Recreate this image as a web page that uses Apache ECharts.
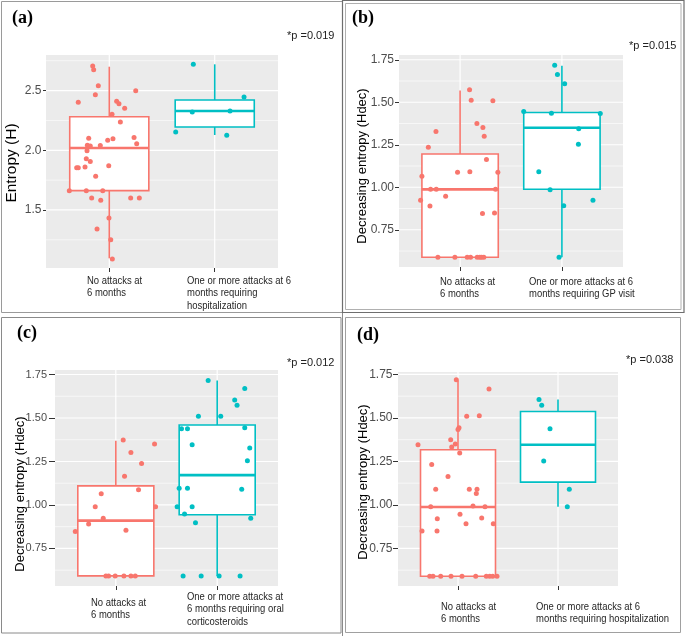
<!DOCTYPE html>
<html>
<head>
<meta charset="utf-8">
<script src="https://cdn.jsdelivr.net/npm/echarts@6/dist/echarts.min.js"></script>
<style>
html,body{margin:0;padding:0;background:#ffffff;}
#chart{width:685px;height:636px;}
</style>
</head>
<body>
<div id="chart"></div>
<script>
// ---------------- DATA ----------------
const groupNames = ['No attacks at 6 months', 'One or more attacks at 6 months'];
const groupPositions = [1, 2];

const xLabelsA = ['No attacks at\n6 months', 'One or more attacks at 6\nmonths requiring\nhospitalization'];
const xLabelsB = ['No attacks at\n6 months', 'One or more attacks at 6\nmonths requiring GP visit'];
const xLabelsC = ['No attacks at\n6 months', 'One or more attacks at\n6 months requiring oral\ncorticosteroids'];
const xLabelsD = ['No attacks at\n6 months', 'One or more attacks at 6\nmonths requiring hospitalization'];

const yTitleA = 'Entropy (H)';
const yTitleB = 'Decreasing entropy (Hdec)';
const yTitleC = 'Decreasing entropy (Hdec)';
const yTitleD = 'Decreasing entropy (Hdec)';

const pValueA = '*p =0.019';
const pValueB = '*p =0.015';
const pValueC = '*p =0.012';
const pValueD = '*p =0.038';

const panelTags = ['(a)', '(b)', '(c)', '(d)'];

const yTicksA = [1.5, 2.0, 2.5];
const yMinorA = [1.25, 1.75, 2.25, 2.75];
const yTicksBCD = [0.75, 1.00, 1.25, 1.50, 1.75];
const yMinorBCD = [0.625, 0.875, 1.125, 1.375, 1.625];

// box stats: [lower whisker, Q1, median, Q3, upper whisker]
const boxA_no  = [1.095, 1.662, 2.019, 2.281, 2.700];
const boxA_yes = [2.128, 2.195, 2.329, 2.421, 2.720];
const boxB_no  = [0.588, 0.588, 0.988, 1.196, 1.569];
const boxB_yes = [0.588, 0.988, 1.350, 1.440, 1.715];
const boxC_no  = [0.592, 0.592, 0.910, 1.110, 1.369];
const boxC_yes = [0.592, 0.944, 1.171, 1.460, 1.715];
const boxD_no  = [0.590, 0.590, 0.988, 1.317, 1.717];
const boxD_yes = [0.990, 1.131, 1.346, 1.537, 1.606];

// jittered points: [jittered group position, value]
const pointsA_no = [[0.843,2.706],[0.852,2.675],[0.896,2.541],[1.251,2.499],[0.868,2.466],[0.706,2.402],[1.070,2.410],[1.092,2.390],[1.146,2.352],[1.026,2.302],[1.105,2.237],[0.805,2.101],[1.035,2.097],[0.985,2.084],[1.235,2.106],[1.260,2.055],[0.792,2.042],[0.820,2.036],[0.915,2.039],[0.789,1.997],[0.782,1.930],[0.820,1.905],[0.691,1.854],[0.706,1.854],[0.770,1.860],[0.995,1.871],[0.871,1.782],[0.621,1.662],[0.782,1.662],[0.938,1.662],[0.833,1.600],[0.919,1.581],[1.203,1.600],[1.285,1.600],[0.997,1.433],[0.884,1.341],[1.014,1.251],[1.029,1.090]];
const pointsA_yes = [[1.797,2.720],[2.278,2.446],[1.787,2.321],[2.145,2.329],[1.630,2.153],[2.114,2.126]];

const pointsB_no = [[1.093,1.573],[1.109,1.512],[1.322,1.509],[0.763,1.328],[1.165,1.375],[1.224,1.351],[1.237,1.300],[0.688,1.236],[1.259,1.163],[0.975,1.088],[1.096,1.092],[1.371,1.088],[0.625,1.065],[0.710,0.988],[0.766,0.988],[1.348,0.988],[0.858,0.947],[0.612,0.923],[0.704,0.890],[1.220,0.845],[1.338,0.849],[0.782,0.588],[0.949,0.588],[1.070,0.588],[1.103,0.588],[1.168,0.588],[1.194,0.588],[1.211,0.588],[1.233,0.588]];
const pointsB_yes = [[1.929,1.717],[1.956,1.664],[2.027,1.609],[1.625,1.446],[1.897,1.436],[2.377,1.434],[2.165,1.344],[2.162,1.253],[1.773,1.092],[1.884,0.986],[2.018,0.892],[2.305,0.923],[1.972,0.588]];

const pointsC_no = [[1.073,1.373],[1.382,1.350],[1.149,1.302],[1.254,1.238],[1.086,1.165],[1.224,1.088],[0.856,1.065],[0.797,0.990],[1.392,0.990],[0.876,0.923],[0.732,0.890],[0.600,0.848],[1.100,0.854],[0.902,0.592],[0.929,0.592],[0.994,0.592],[1.080,0.592],[1.149,0.592],[1.192,0.592]];
const pointsC_yes = [[1.911,1.715],[2.272,1.669],[2.173,1.604],[2.196,1.573],[1.815,1.510],[2.035,1.510],[1.648,1.438],[1.707,1.438],[2.272,1.444],[1.753,1.346],[2.321,1.327],[2.298,1.254],[1.625,1.096],[1.707,1.096],[2.242,1.090],[1.605,0.990],[1.753,0.990],[1.678,0.948],[2.331,0.923],[1.786,0.898],[1.664,0.592],[1.842,0.592],[2.019,0.592],[2.226,0.592]];

const pointsD_no = [[0.983,1.719],[1.310,1.667],[1.087,1.510],[1.213,1.512],[1.010,1.444],[1.000,1.433],[0.927,1.375],[0.973,1.350],[0.937,1.333],[0.600,1.346],[1.017,1.298],[0.737,1.233],[0.900,1.163],[0.777,1.090],[1.113,1.090],[1.190,1.090],[1.183,1.065],[0.727,0.990],[1.150,0.994],[1.270,0.990],[1.020,0.946],[0.793,0.921],[1.237,0.925],[1.080,0.892],[1.353,0.892],[0.640,0.850],[0.790,0.850],[0.717,0.590],[0.750,0.590],[0.827,0.590],[0.930,0.590],[1.040,0.590],[1.177,0.590],[1.283,0.590],[1.317,0.590],[1.347,0.590],[1.390,0.590]];
const pointsD_yes = [[1.810,1.606],[1.837,1.573],[1.920,1.438],[1.857,1.252],[2.113,1.090],[2.093,0.990]];

// ---------------- LAYOUT / STYLE ----------------
const RED = '#F8766D', CYAN = '#00BFC4';
const SMALL_FONT = "'Liberation Sans', Arial, sans-serif";
const AXIS_FONT = "'Liberation Sans', Arial, sans-serif";

const panels = [
  { grid:{left:46, top:55, width:232, height:213}, yMin:1.014, yMax:2.798, ticks:yTicksA, minor:yMinorA, dec:1,
    tickLen:3, labelMargin:4.5, labelSize:12, boxes:[boxA_no, boxA_yes], pts:[pointsA_no, pointsA_yes],
    xLabels:xLabelsA, xLabelPos:[[87,274.5],[187,274.5]], yTitle:yTitleA, yTitlePos:[12,163], yTitleSize:15.5,
    tag:[12,18], p:pValueA, pPos:[287,36] },
  { grid:{left:399, top:55, width:224, height:212}, yMin:0.531, yMax:1.778, ticks:yTicksBCD, minor:yMinorBCD, dec:2,
    tickLen:4, labelMargin:5, labelSize:12, boxes:[boxB_no, boxB_yes], pts:[pointsB_no, pointsB_yes],
    xLabels:xLabelsB, xLabelPos:[[440,275.5],[529,275.5]], yTitle:yTitleB, yTitlePos:[362,166], yTitleSize:13,
    tag:[352,18], p:pValueB, pPos:[629,46] },
  { grid:{left:55, top:370, width:223, height:216}, yMin:0.534, yMax:1.776, ticks:yTicksBCD, minor:yMinorBCD, dec:2,
    tickLen:6, labelMargin:8, labelSize:11, boxes:[boxC_no, boxC_yes], pts:[pointsC_no, pointsC_yes],
    xLabels:xLabelsC, xLabelPos:[[91,596.5],[187,590.5]], yTitle:yTitleC, yTitlePos:[20,494], yTitleSize:13,
    tag:[17,333], p:pValueC, pPos:[287,363] },
  { grid:{left:398, top:372, width:220, height:214}, yMin:0.534, yMax:1.764, ticks:yTicksBCD, minor:yMinorBCD, dec:2,
    tickLen:5, labelMargin:5.5, labelSize:12, boxes:[boxD_no, boxD_yes], pts:[pointsD_no, pointsD_yes],
    xLabels:xLabelsD, xLabelPos:[[441,600.5],[536,600.5]], yTitle:yTitleD, yTitlePos:[363,482], yTitleSize:13,
    tag:[357,335], p:pValueD, pPos:[626,360] }
];

const colors = [RED, CYAN];

function renderGridLines(params, api) {
  const cs = params.coordSys;
  const orient = api.value(0), v = api.value(1), major = api.value(2);
  const w = major ? 1.2 : 0.6;
  if (orient === 0) {
    const p = api.coord([1.5, v]);
    return { type:'line', shape:{x1:cs.x, y1:p[1], x2:cs.x+cs.width, y2:p[1]},
             style:{stroke:'#FFFFFF', lineWidth:w}, silent:true };
  } else {
    const p = api.coord([v, 1]);
    return { type:'line', shape:{x1:p[0], y1:cs.y, x2:p[0], y2:cs.y+cs.height},
             style:{stroke:'#FFFFFF', lineWidth:w}, silent:true };
  }
}

function makeBoxRenderer(color) {
  return function (params, api) {
    const x = api.value(0);
    const lo = api.value(1), q1 = api.value(2), med = api.value(3), q3 = api.value(4), hi = api.value(5);
    const hw = 0.375;
    const tl = api.coord([x - hw, q3]);
    const br = api.coord([x + hw, q1]);
    const m1 = api.coord([x - hw, med]);
    const m2 = api.coord([x + hw, med]);
    const pLo = api.coord([x, lo]), pQ1 = api.coord([x, q1]), pQ3 = api.coord([x, q3]), pHi = api.coord([x, hi]);
    return { type:'group', children:[
      { type:'line', shape:{x1:pHi[0], y1:pHi[1], x2:pQ3[0], y2:pQ3[1]}, style:{stroke:color, lineWidth:1.6} },
      { type:'line', shape:{x1:pQ1[0], y1:pQ1[1], x2:pLo[0], y2:pLo[1]}, style:{stroke:color, lineWidth:1.6} },
      { type:'rect', shape:{x:tl[0], y:tl[1], width:br[0]-tl[0], height:br[1]-tl[1]},
        style:{fill:'#FFFFFF', stroke:color, lineWidth:1.6} },
      { type:'line', shape:{x1:m1[0], y1:m1[1], x2:m2[0], y2:m2[1]}, style:{stroke:color, lineWidth:2.7} }
    ]};
  };
}

const grids = [], xAxes = [], yAxes = [], series = [], graphics = [];

panels.forEach((pn, i) => {
  grids.push(Object.assign({ show:true, backgroundColor:'#EBEBEB', borderWidth:0, containLabel:false }, pn.grid));
  xAxes.push({
    type:'value', gridIndex:i, min:0.4, max:2.6,
    axisLine:{show:false},
    axisTick:{show:true, customValues:groupPositions, length:4, lineStyle:{color:'#333333', width:1}},
    axisLabel:{show:false}, splitLine:{show:false}
  });
  yAxes.push({
    type:'value', gridIndex:i, min:pn.yMin, max:pn.yMax,
    axisLine:{show:false},
    axisTick:{show:true, customValues:pn.ticks, length:pn.tickLen, lineStyle:{color:'#333333', width:1}},
    axisLabel:{show:true, customValues:pn.ticks, margin:pn.labelMargin, color:'#4D4D4D',
      fontSize:pn.labelSize, fontFamily:AXIS_FONT, formatter:(v) => Number(v).toFixed(pn.dec)},
    splitLine:{show:false}, minorSplitLine:{show:false}
  });

  const gl = [];
  pn.ticks.forEach(v => gl.push([0, v, 1]));
  pn.minor.forEach(v => gl.push([0, v, 0]));
  groupPositions.forEach(v => gl.push([1, v, 1]));
  series.push({ type:'custom', name:'grid'+i, xAxisIndex:i, yAxisIndex:i, z:1, silent:true,
    renderItem:renderGridLines, data:gl, encode:{x:-1, y:1}, animation:false, tooltip:{show:false} });

  pn.boxes.forEach((b, g) => {
    series.push({ type:'custom', name:groupNames[g], xAxisIndex:i, yAxisIndex:i, z:2, animation:false,
      renderItem:makeBoxRenderer(colors[g]),
      data:[[groupPositions[g]].concat(b)], encode:{x:0, y:[1,2,3,4,5]} });
  });
  pn.pts.forEach((pts, g) => {
    series.push({ type:'scatter', name:groupNames[g], xAxisIndex:i, yAxisIndex:i, z:3, animation:false,
      symbol:'circle', symbolSize:5, itemStyle:{color:colors[g], opacity:1}, data:pts });
  });

  // text elements
  graphics.push({ type:'text', x:pn.tag[0], y:pn.tag[1], style:{ text:panelTags[i], fill:'#000',
    font:"bold 18px 'Liberation Serif', 'DejaVu Serif', serif", align:'left', verticalAlign:'middle' } });
  graphics.push({ type:'text', x:pn.pPos[0], y:pn.pPos[1], style:{ text:pn.p, fill:'#222',
    font:"11px " + SMALL_FONT, align:'left', verticalAlign:'middle' } });
  graphics.push({ type:'text', x:pn.yTitlePos[0], y:pn.yTitlePos[1], rotation:Math.PI/2,
    style:{ text:pn.yTitle, fill:'#000', font:pn.yTitleSize + "px " + AXIS_FONT, align:'center', verticalAlign:'middle' } });
  pn.xLabels.forEach((t, g) => {
    graphics.push({ type:'text', x:pn.xLabelPos[g][0], y:pn.xLabelPos[g][1], scaleX:0.86, scaleY:1,
      style:{ text:t, fill:'#262626', font:"11px " + SMALL_FONT, lineHeight:12.5, align:'left', verticalAlign:'top' } });
  });
});

// panel borders
graphics.push({ type:'rect', shape:{x:1.5, y:1.5, width:341, height:311}, style:{fill:null, stroke:'#9A9A9A', lineWidth:1}, z:-1 });
graphics.push({ type:'rect', shape:{x:342.5, y:0.5, width:341.5, height:312}, style:{fill:null, stroke:'#6E6E6E', lineWidth:1.2}, z:-1 });
graphics.push({ type:'rect', shape:{x:345.5, y:3.5, width:335.5, height:306}, style:{fill:null, stroke:'#B0B0B0', lineWidth:1}, z:-1 });
graphics.push({ type:'rect', shape:{x:1.5, y:317.5, width:339.5, height:315.5}, style:{fill:null, stroke:'#8A8A8A', lineWidth:1}, z:-1 });
graphics.push({ type:'rect', shape:{x:345.5, y:317.5, width:335, height:315}, style:{fill:null, stroke:'#A0A0A0', lineWidth:1}, z:-1 });
graphics.push({ type:'line', shape:{x1:342.5, y1:313, x2:342.5, y2:636}, style:{stroke:'#8A8A8A', lineWidth:1}, z:-1 });

const chart = echarts.init(document.getElementById('chart'), null, { renderer:'canvas' });
chart.setOption({
  animation:false,
  backgroundColor:'#FFFFFF',
  grid:grids, xAxis:xAxes, yAxis:yAxes, series:series, graphic:graphics
});
</script>
</body>
</html>
